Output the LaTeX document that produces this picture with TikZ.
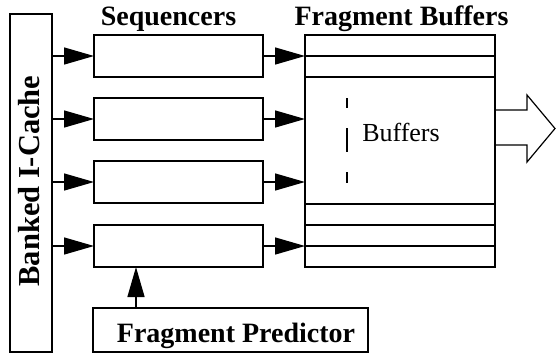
\documentclass[tikz,border=0pt]{standalone}
\usepackage{fontspec}
\setmainfont{Liberation Serif}
\usetikzlibrary{arrows.meta}
\begin{document}
\begin{tikzpicture}[x=1pt,y=-1pt,
  box/.style={draw, line width=1.4pt, inner sep=0pt, outer sep=0pt},
  seqbox/.style={box, minimum width=169pt, minimum height=42pt},
  arr/.style={line width=1.4pt, -{Triangle[length=30pt,width=17pt]}},
  title/.style={font=\fontsize{28}{30}\selectfont\bfseries, inner sep=0pt, anchor=base},
  rowline/.style={line width=1.4pt}]
\useasboundingbox (0,0) rectangle (556,354);
% cache
\node[box, minimum width=42pt, minimum height=338pt] (cache) at (31,183) {};
\node[font=\fontsize{30.5}{32}\selectfont\bfseries, rotate=90, inner sep=0pt] (cachelabel) at (29,181) {Banked I-Cache};
% sequencers
\node[seqbox] (s1) at (178.5,56) {};
\node[seqbox] (s2) at (178.5,119) {};
\node[seqbox] (s3) at (178.5,182) {};
\node[seqbox] (s4) at (178.5,246) {};
\node[title] (seqlabel) at (168.5,25) {Sequencers};
% buffers
\node[box, minimum width=190pt, minimum height=232pt] (buf) at (400,151) {};
\node[title] (buflabel) at (401.5,25) {Fragment Buffers};
\foreach \yy in {56,77,204,225,246}{
  \coordinate (r) at (0,\yy);
  \draw[rowline] (buf.west |- r) -- (buf.east |- r);
}
\coordinate (dtop) at (347,98);
\coordinate (dbot) at (347,183);
\draw[line width=1.4pt, dash pattern=on 24pt off 20pt, dash phase=14pt] (dtop) -- (dbot);
\node[font=\fontsize{26}{28}\selectfont, inner sep=0pt] (buftext) at (401,132) {Buffers};
% output arrow
\draw[line width=1.2pt, line join=miter]
  (buf.east |- 0,110) -- (527,110) -- (527,95) -- (555,128.5) -- (527,162) -- (527,145) -- (buf.east |- 0,145);
% predictor
\node[box, minimum width=275pt, minimum height=44pt] (fp) at (230.5,330) {};
\node[title] (fplabel) at (236,342) {Fragment Predictor};
% arrows
\foreach \s in {s1,s2,s3,s4}{
  \draw[arr] (cache.east |- \s.west) -- (\s.west);
  \draw[arr] (\s.east) -- (buf.west |- \s.east);
}
\coordinate (ux) at (136,0);
\draw[arr] (fp.north -| ux) -- (s4.south -| ux);
\end{tikzpicture}
\end{document}
